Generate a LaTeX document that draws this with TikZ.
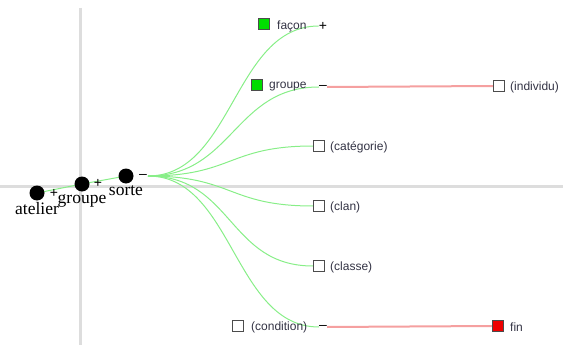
\documentclass[tikz,border=0pt]{standalone}
\usepackage{fontspec}
\setmainfont{Liberation Serif}
\newfontfamily\leafsans{Liberation Sans}
\usetikzlibrary{backgrounds}
\definecolor{axisgray}{HTML}{DDDDDD}
\definecolor{linkgreen}{HTML}{88EE88}
\definecolor{linkpink}{HTML}{F5A0A0}
\definecolor{hitgreen}{HTML}{00DD00}
\definecolor{hitred}{HTML}{EE0000}
\definecolor{leaftext}{HTML}{333344}
\tikzset{
  axisline/.style={draw=axisgray, line width=3pt},
  dot/.style={circle, fill=black, minimum size=15pt, inner sep=0pt},
  rootlabel/.style={font=\fontsize{17.5}{17.5}\selectfont, anchor=base, inner sep=0pt},
  sign/.style={font=\leafsans\fontsize{14}{14}\selectfont, inner sep=0pt},
  leafbox/.style={draw=black!70, line width=1.1pt, fill=white, minimum size=11pt, inner sep=0pt},
  greenbox/.style={leafbox, fill=hitgreen},
  redbox/.style={leafbox, fill=hitred},
  leaflabel/.style={font=\leafsans\fontsize{12}{12}\selectfont, text=leaftext, anchor=west, inner sep=0pt},
  link/.style={draw=linkgreen, line width=1pt},
  pinklink/.style={draw=linkpink, line width=2pt},
}
\begin{document}
\begin{tikzpicture}[x=1pt, y=-1pt]
\useasboundingbox (0,0) rectangle (563,345);

% root chain
\node[dot] (atelier) at (37,193) {};
\node[dot] (groupe) at (82,184) {};
\node[dot] (sorte) at (126,176) {};
\node[rootlabel] (atelier-t) at ([yshift=-21pt]atelier.center) {atelier};
\node[rootlabel] (groupe-t) at ([yshift=-19pt]groupe.center) {groupe};
\node[rootlabel] (sorte-t) at ([yshift=-19pt]sorte.center) {sorte};
\node[sign] (atelier-s) at (54,193) {+};
\node[sign] (groupe-s) at (98,183) {+};
\node[sign] (sorte-s) at (143,176) {–};
\coordinate (fan) at (148,176);

% leaves
\node[greenbox] (facon) at (264,24) {};
\node[leaflabel] (facon-t) at (277,26) {façon};
\node[sign] (facon-s) at (323,26) {+};

\node[greenbox] (grp) at (257,85) {};
\node[leaflabel] (grp-t) at (269,87) {groupe};
\node[sign] (grp-s) at (323,87) {–};

\node[leafbox] (indiv) at (499,86) {};
\node[leaflabel] (indiv-t) at (510,87) {(individu)};

\node[leafbox] (categ) at (319,146) {};
\node[leaflabel] (categ-t) at (330,147) {(catégorie)};

\node[leafbox] (clan) at (319,206) {};
\node[leaflabel] (clan-t) at (330,207) {(clan)};

\node[leafbox] (classe) at (319,266) {};
\node[leaflabel] (classe-t) at (330,267) {(classe)};

\node[leafbox] (cond) at (238,326) {};
\node[leaflabel] (cond-t) at (251,327) {(condition)};
\node[sign] (cond-s) at (323,327) {–};

\node[redbox] (fin) at (498,326) {};
\node[leaflabel] (fin-t) at (510,327) {fin};

\begin{pgfonlayer}{background}
  % axes
  \draw[axisline] (0,186) -- (563,186);
  \draw[axisline] (80,8) -- (80,345);
  % chain links
  \draw[link] (atelier.center) -- (groupe.center) -- (sorte.center);
  % fan-out links
  \foreach \t in {facon-s.west, grp-s.west, categ.west, clan.west, classe.west, cond-s.west}
    \draw[link] (fan) .. controls +(85,0) and +(-85,0) .. (\t);
  % continuation links
  \draw[pinklink] (grp-s.east) -- (indiv.west);
  \draw[pinklink] (cond-s.east) -- (fin.west);
\end{pgfonlayer}
\end{tikzpicture}
\end{document}
